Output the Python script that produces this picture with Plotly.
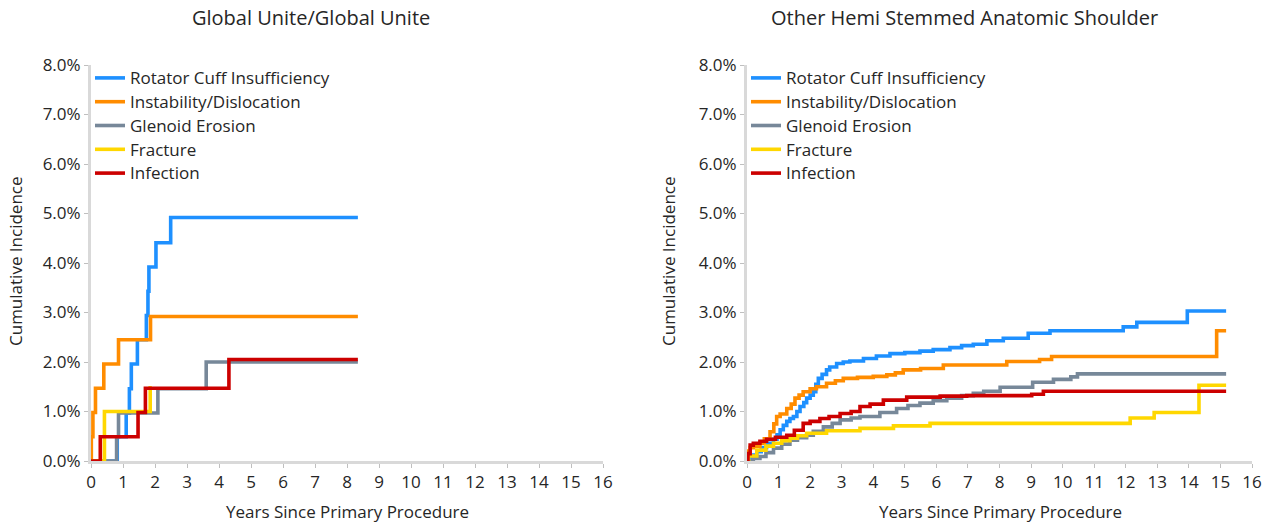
import plotly.graph_objects as go

W, H = 1279, 526

series_names = ["Rotator Cuff Insufficiency", "Instability/Dislocation", "Glenoid Erosion", "Fracture", "Infection"]
series_colors = ["#1E90FF", "#FF8C00", "#778899", "#FFD700", "#CC0000"]

# ---------- Left chart: Global Unite/Global Unite ----------
left_rci_t = [0, 0.82, 1.10, 1.20, 1.26, 1.45, 1.73, 1.78, 1.81, 2.03, 2.49, 8.34]
left_rci_v = [0, 0.49, 0.97, 1.46, 1.96, 2.45, 2.94, 3.43, 3.92, 4.41, 4.92, 4.92]
left_ins_t = [0, 0.01, 0.06, 0.14, 0.40, 0.86, 1.86, 8.34]
left_ins_v = [0, 0.49, 0.98, 1.47, 1.96, 2.45, 2.92, 2.92]
left_gle_t = [0, 0.80, 0.86, 2.09, 3.60, 8.34]
left_gle_v = [0, 0.49, 0.97, 1.46, 2.00, 2.00]
left_fra_t = [0, 0.42, 1.85, 1.90]
left_fra_v = [0, 1.00, 1.48, 1.48]
left_inf_t = [0, 0.29, 1.47, 1.70, 4.31, 8.34]
left_inf_v = [0, 0.49, 0.98, 1.47, 2.05, 2.05]

# ---------- Right chart: Other Hemi Stemmed Anatomic Shoulder ----------
right_rci_t = [0, 0.10, 0.20, 0.31, 0.45, 0.62, 0.84, 0.95, 1.05, 1.15, 1.26, 1.36, 1.47, 1.58, 1.68,
               1.80, 1.89, 2.00, 2.10, 2.18, 2.26, 2.38, 2.52, 2.62, 2.84, 3.05, 3.26, 3.69, 4.10, 4.53,
               5.00, 5.48, 5.90, 6.43, 6.80, 7.17, 7.60, 8.12, 8.91, 9.60, 11.92, 12.35, 13.95, 15.18]
right_rci_v = [0, 0.05, 0.12, 0.19, 0.27, 0.36, 0.44, 0.53, 0.63, 0.72, 0.80, 0.86, 0.90, 1.00, 1.10,
               1.18, 1.27, 1.33, 1.40, 1.55, 1.67, 1.75, 1.84, 1.90, 1.97, 2.00, 2.02, 2.07, 2.12, 2.17,
               2.19, 2.22, 2.25, 2.29, 2.33, 2.36, 2.43, 2.48, 2.58, 2.63, 2.71, 2.80, 3.03, 3.03]
right_ins_t = [0, 0.03, 0.10, 0.20, 0.41, 0.55, 0.73, 0.85, 0.94, 1.05, 1.26, 1.40, 1.52, 1.65, 1.78,
               2.00, 2.20, 2.52, 2.80, 3.05, 3.50, 4.00, 4.43, 4.70, 4.95, 5.50, 6.22, 8.23, 9.27, 9.65,
               14.88, 15.18]
right_ins_v = [0, 0.20, 0.27, 0.30, 0.36, 0.45, 0.59, 0.75, 0.90, 0.95, 1.06, 1.15, 1.27, 1.33, 1.40,
               1.46, 1.50, 1.57, 1.62, 1.67, 1.69, 1.71, 1.74, 1.78, 1.84, 1.87, 1.94, 2.01, 2.05, 2.11,
               2.63, 2.63]
right_gle_t = [0, 0.20, 0.41, 0.60, 0.84, 1.10, 1.36, 1.60, 1.89, 2.10, 2.42, 2.70, 2.95, 3.30, 3.58,
               4.21, 4.74, 5.10, 5.48, 5.90, 6.33, 6.80, 7.17, 7.50, 8.02, 9.05, 9.71, 10.26, 10.47, 15.18]
right_gle_v = [0, 0.05, 0.09, 0.17, 0.26, 0.34, 0.42, 0.47, 0.52, 0.60, 0.69, 0.76, 0.83, 0.87, 0.90,
               0.98, 1.06, 1.12, 1.17, 1.22, 1.27, 1.32, 1.37, 1.41, 1.49, 1.59, 1.65, 1.70, 1.76, 1.76]
right_fra_t = [0, 0.05, 0.31, 0.60, 0.84, 1.10, 1.36, 1.60, 1.89, 2.52, 3.58, 4.64, 5.80, 12.14, 12.90,
               14.32, 15.18]
right_fra_v = [0, 0.10, 0.22, 0.30, 0.36, 0.41, 0.46, 0.51, 0.56, 0.61, 0.66, 0.71, 0.76, 0.87, 0.98,
               1.53, 1.53]
right_inf_t = [0, 0.03, 0.10, 0.20, 0.41, 0.62, 0.90, 1.26, 1.50, 1.78, 2.00, 2.31, 2.60, 2.95, 3.30,
               3.58, 3.90, 4.32, 5.06, 6.12, 6.96, 9.02, 9.39, 15.18]
right_inf_v = [0, 0.15, 0.32, 0.36, 0.40, 0.44, 0.48, 0.52, 0.62, 0.76, 0.80, 0.86, 0.90, 0.96, 1.00,
               1.10, 1.15, 1.23, 1.29, 1.31, 1.32, 1.35, 1.41, 1.41]

chart_titles = ["Global Unite/Global Unite", "Other Hemi Stemmed Anatomic Shoulder"]
x_title = "Years Since Primary Procedure"
y_title = "Cumulative Incidence"
x_tickvals = list(range(0, 17))
x_ticktext = [str(v) for v in x_tickvals]
y_tickvals = [0, 1, 2, 3, 4, 5, 6, 7, 8]
y_ticktext = ["0.0%", "1.0%", "2.0%", "3.0%", "4.0%", "5.0%", "6.0%", "7.0%", "8.0%"]

left_data = [(left_rci_t, left_rci_v), (left_ins_t, left_ins_v), (left_gle_t, left_gle_v),
             (left_fra_t, left_fra_v), (left_inf_t, left_inf_v)]
right_data = [(right_rci_t, right_rci_v), (right_ins_t, right_ins_v), (right_gle_t, right_gle_v),
              (right_fra_t, right_fra_v), (right_inf_t, right_inf_v)]

FONT = "Open Sans, Noto Sans, sans-serif"
TXT = "#262626"

fig = go.Figure()
for data, xa, ya, lg in [(left_data, "x", "y", "legend"), (right_data, "x2", "y2", "legend2")]:
    for (t, v), name, col in zip(data, series_names, series_colors):
        fig.add_trace(go.Scatter(
            x=t, y=v, mode="lines", name="<span style='font-size:17px'>" + name + "</span>",
            line=dict(color=col, width=3.6, shape="hv"),
            xaxis=xa, yaxis=ya, legend=lg, cliponaxis=False, hoverinfo="skip"))

ydom = [1 - 461 / H, 1 - 65 / H]
axis_common = dict(showgrid=False, zeroline=False, showline=True, linecolor="#D9D9D9", linewidth=3,
                   ticks="outside", ticklen=4, tickcolor="#BFBFBF", tickwidth=1, automargin=False,
                   tickmode="array", tickfont=dict(family=FONT, size=17, color=TXT),
                   layer="below traces")

fig.update_layout(
    template="none",
    width=W, height=H, margin=dict(l=0, r=0, t=0, b=0, pad=0),
    paper_bgcolor="white", plot_bgcolor="white",
    font=dict(family=FONT, color=TXT),
    xaxis=dict(domain=[91 / W, 603 / W], range=[0, 16], tickvals=x_tickvals, ticktext=x_ticktext,
               anchor="y", **axis_common),
    yaxis=dict(domain=ydom, range=[0, 8], tickvals=y_tickvals, ticktext=y_ticktext, anchor="x",
               **axis_common),
    xaxis2=dict(domain=[747 / W, 1252 / W], range=[0, 16], tickvals=x_tickvals, ticktext=x_ticktext,
                anchor="y2", **axis_common),
    yaxis2=dict(domain=ydom, range=[0, 8], tickvals=y_tickvals, ticktext=y_ticktext, anchor="x2",
                **axis_common),
    legend=dict(x=90 / W, y=1 - 61 / H, xanchor="left", yanchor="top", bgcolor="rgba(0,0,0,0)",
                font=dict(family=FONT, size=16, color=TXT), tracegroupgap=0, itemwidth=30),
    legend2=dict(x=746 / W, y=1 - 61 / H, xanchor="left", yanchor="top", bgcolor="rgba(0,0,0,0)",
                 font=dict(family=FONT, size=16, color=TXT), tracegroupgap=0, itemwidth=30),
)

ann = []
for cx, ttl, xt_x, ax_x in [(311, chart_titles[0], 347, 15), (964, chart_titles[1], 1000, 668)]:
    ann.append(dict(x=cx / W, y=1 - 18 / H, xref="paper", yref="paper", text=ttl, showarrow=False,
                    font=dict(family=FONT, size=20, color=TXT), xanchor="center", yanchor="middle"))
    ann.append(dict(x=xt_x / W, y=1 - 511 / H, xref="paper", yref="paper", text=x_title, showarrow=False,
                    font=dict(family=FONT, size=17, color=TXT), xanchor="center", yanchor="middle"))
    ann.append(dict(x=ax_x / W, y=1 - 261 / H, xref="paper", yref="paper", text=y_title, showarrow=False,
                    textangle=-90, font=dict(family=FONT, size=17, color=TXT), xanchor="center",
                    yanchor="middle"))
fig.update_layout(annotations=ann)

fig.write_html("out.html", config={"displayModeBar": False},
               post_script="document.body.style.margin='0';document.body.style.overflow='hidden';")
